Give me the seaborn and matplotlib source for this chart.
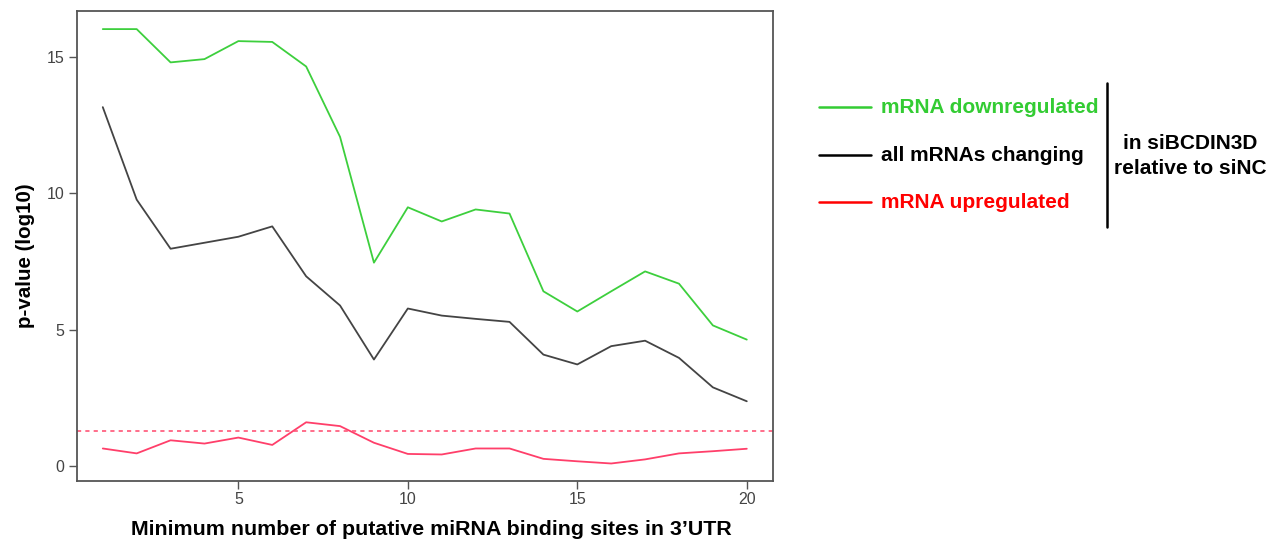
import numpy as np
import pandas as pd
import matplotlib
matplotlib.use("Agg")
import matplotlib.pyplot as plt
from matplotlib.lines import Line2D
import seaborn as sns

# Minimum number of putative miRNA sites in the 3'UTR
min_sites = list(range(1, 21))

# -log10 p-values per gene group
pval_down = [16.02, 16.02, 14.80, 14.92, 15.58, 15.55, 14.65, 12.07, 7.46, 9.49,
             8.97, 9.41, 9.26, 6.41, 5.67, 6.41, 7.14, 6.69, 5.16, 4.64]
pval_all = [13.16, 9.77, 7.97, 8.19, 8.41, 8.79, 6.96, 5.89, 3.91, 5.78,
            5.52, 5.40, 5.29, 4.09, 3.73, 4.40, 4.60, 3.97, 2.89, 2.38]
pval_up = [0.65, 0.47, 0.95, 0.83, 1.05, 0.78, 1.61, 1.47, 0.86, 0.45,
           0.43, 0.65, 0.65, 0.27, 0.18, 0.10, 0.25, 0.47, 0.55, 0.64]
threshold = 1.30  # -log10(0.05)

series_names = ["mRNA downregulated", "all mRNAs changing", "mRNA upregulated"]
line_colors = ["#3dcf3d", "#444444", "#ff3f6a"]
key_colors = ["#33cc33", "#000000", "#ff0000"]
label_colors = ["#33cc33", "#000000", "#ff0000"]

df = pd.DataFrame({
    "sites": min_sites * 3,
    "pval": pval_down + pval_all + pval_up,
    "group": [series_names[0]] * 20 + [series_names[1]] * 20 + [series_names[2]] * 20,
})

sns.set_theme(style="white")
plt.rcParams["font.family"] = ["Liberation Sans", "DejaVu Sans"]

fig = plt.figure(figsize=(12.88, 5.41), dpi=100)
ax = fig.add_axes([0.0598, 0.111, 0.540, 0.869])

sns.lineplot(data=df, x="sites", y="pval", hue="group",
             palette=dict(zip(series_names, line_colors)),
             linewidth=1.3, legend=False, ax=ax)
ax.axhline(threshold, color="#ff5577", linestyle=(0, (2.5, 2.5)), linewidth=1.2)

ax.set_xlim(0.24, 20.76)
ax.set_ylim(-0.54, 16.69)
ax.set_xticks([5, 10, 15, 20])
ax.set_yticks([0, 5, 10, 15])
for side in ["top", "right", "left", "bottom"]:
    ax.spines[side].set_color("#555555")
    ax.spines[side].set_linewidth(1.3)
ax.tick_params(axis="both", which="major", direction="out", length=6, width=1,
               color="#555555", labelcolor="#444444", labelsize=11.5,
               bottom=True, left=True, pad=3)
ax.tick_params(axis="x", pad=2)

ax.set_xlabel("Minimum number of putative miRNA binding sites in 3\u2019UTR",
              fontsize=15.4, fontweight="bold", color="#000000")
ax.set_ylabel("p-value (log10)", fontsize=14.8, fontweight="bold", color="#000000")
ax.xaxis.set_label_coords(0.51, -0.083)
ax.yaxis.set_label_coords(-0.061, 0.48)

# Legend block at the right
ys = [107, 155, 202]
H, W = 541, 1288
for y, name, kc, tc in zip(ys, series_names, key_colors, label_colors):
    fy = 1 - y / H
    fig.add_artist(Line2D([819 / W, 871 / W], [fy, fy], color=kc,
                          linewidth=1.8, transform=fig.transFigure))
    fig.text(881 / W, fy, name, color=tc, fontsize=15, fontweight="bold",
             ha="left", va="center")
fig.add_artist(Line2D([1107 / W, 1107 / W], [1 - 83 / H, 1 - 227 / H], color="#000000",
                      linewidth=1.8, transform=fig.transFigure))
fig.text(1190 / W, 1 - 156 / H, "in siBCDIN3D\nrelative to siNC", color="#000000",
         fontsize=15, fontweight="bold", ha="center", va="center", linespacing=1.45)

fig.savefig("out.png", dpi=100)
